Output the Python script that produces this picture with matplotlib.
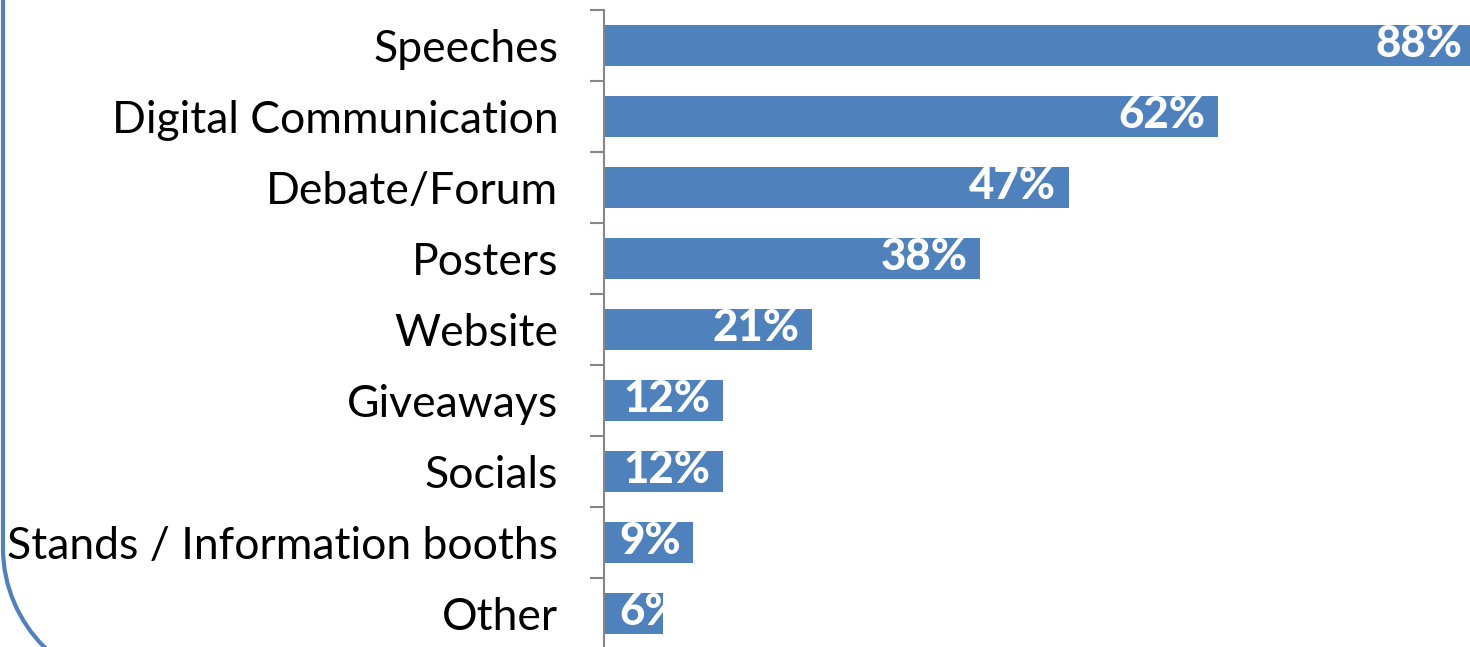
import matplotlib
matplotlib.use("Agg")
from matplotlib import pyplot as plt
from matplotlib.path import Path
from matplotlib.patches import PathPatch

plt.rcParams['font.family'] = ['Lato', 'DejaVu Sans']

# survey results, top to bottom
categories = ['Speeches', 'Digital Communication', 'Debate/Forum', 'Posters',
              'Website', 'Giveaways', 'Socials', 'Stands / Information booths', 'Other']
shares = [88, 62, 47, 38, 21, 12, 12, 9, 6]

W, H = 1470, 647
fig = plt.figure(figsize=(W / 100, H / 100), dpi=100)

# rounded frame on the left, drawn in pixel units
bg = fig.add_axes([0, 0, 1, 1])
bg.set_xlim(0, W)
bg.set_ylim(H, 0)
bg.axis('off')
r = 140
verts = [(3, -20), (3, 548), (3, 548 + r * 0.55), (3 + r - r * 0.55, 688), (3 + r, 688), (W + 20, 688)]
codes = [Path.MOVETO, Path.LINETO, Path.CURVE4, Path.CURVE4, Path.CURVE4, Path.LINETO]
bg.add_patch(PathPatch(Path(verts, codes), fill=False, edgecolor='#4F81BD', lw=3))

# bar chart, axis extends past the right edge of the figure
ax = fig.add_axes([604 / W, -2 / H, 990 / W, 639 / H])
y = list(range(len(categories)))
bars = ax.barh(y, shares, height=0.59, color='#4F81BD')
ax.set_xlim(0, 100)
ax.set_ylim(len(categories) - 0.5, -0.5)

ax.set_yticks(y)
ax.set_yticklabels(categories, fontsize=32)
ax.set_yticks([i - 0.5 for i in range(len(categories) + 1)], minor=True)
ax.tick_params(axis='y', which='major', length=0, pad=33)
ax.tick_params(axis='y', which='minor', length=10, width=1.5, color='#868686', direction='out')
ax.set_xticks([])
for s in ['top', 'right', 'bottom']:
    ax.spines[s].set_visible(False)
ax.spines['left'].set_color('#868686')
ax.spines['left'].set_linewidth(1.5)

# value labels at the inside end; short bars keep the label at the start and clip it
pad = 1.3
renderer = fig.canvas.get_renderer()
for rect, v in zip(bars, shares):
    yc = rect.get_y() + rect.get_height() / 2 - 0.02
    t = ax.text(v - pad, yc, '%d%%' % v, ha='right', va='center',
                color='white', fontsize=31.5, fontweight='black')
    left = ax.transData.inverted().transform(t.get_window_extent(renderer))[0][0]
    if left < 1.6:
        t.set_position((1.6, yc))
        t.set_ha('left')
        t.set_clip_path(rect)

fig.savefig('out.png', dpi=100)
